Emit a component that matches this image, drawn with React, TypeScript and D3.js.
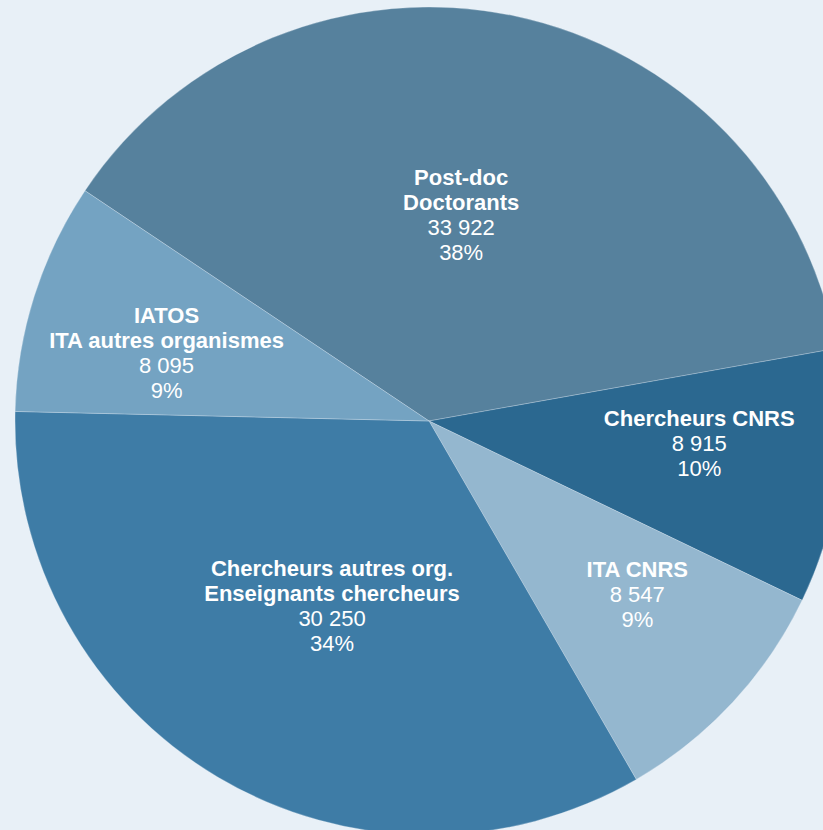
import React from "react";
import * as d3 from "d3";

const categories: string[][] = [
  ["Post-doc", "Doctorants"],
  ["Chercheurs CNRS"],
  ["ITA CNRS"],
  ["Chercheurs autres org.", "Enseignants chercheurs"],
  ["IATOS", "ITA autres organismes"],
];
const values: number[] = [33922, 8915, 8547, 30250, 8095];
const percentLabels: string[] = ["38%", "10%", "9%", "34%", "9%"];
const colors: string[] = ["#56819D", "#2B6890", "#94B7CF", "#3E7CA6", "#74A3C2"];

const W = 823;
const H = 830;
const CX = 429;
const CY = 421;
const R = 414;
const START_DEG = -56.2;
const FONT = 22;
const LINE_H = 25;

const fmt = (v: number) => d3.format(",")(v).replace(/,/g, " ");

export default function App() {
  const total = d3.sum(values);
  const pie = d3
    .pie<number>()
    .sort(null)
    .value((d) => d)
    .startAngle((START_DEG * Math.PI) / 180)
    .endAngle(((START_DEG + 360) * Math.PI) / 180);
  const arcs = pie(values);
  const arcGen = d3.arc<d3.PieArcDatum<number>>().innerRadius(0).outerRadius(R);
  const shift = (-3 * Math.PI) / 180;

  return (
    <div style={{ position: "fixed", left: 0, top: 0, width: W, height: H }}>
      <svg width={W} height={H} style={{ display: "block" }}>
        <rect width={W} height={H} fill="#E8F0F7" />
        <g transform={`translate(${CX},${CY})`}>
          {arcs.map((a, i) => (
            <path key={i} d={arcGen(a) || ""} fill={colors[i]} stroke="#E8F0F7" strokeOpacity={0.35} strokeWidth={0.8} />
          ))}
          {arcs.map((a, i) => {
            const frac = values[i] / total;
            const lr = frac > 0.25 ? R * 0.505 : R * 0.655;
            const mid = (a.startAngle + a.endAngle) / 2 + shift;
            const x = lr * Math.sin(mid);
            const y = -lr * Math.cos(mid);
            const lines = [
              ...categories[i].map((t) => ({ t, b: true })),
              { t: fmt(values[i]), b: false },
              { t: percentLabels[i], b: false },
            ];
            const y0 = y - ((lines.length - 1) * LINE_H) / 2;
            return (
              <text
                key={"t" + i}
                textAnchor="middle"
                fill="#FFFFFF"
                fontFamily="'Liberation Sans', Arial, sans-serif"
                fontSize={FONT}
              >
                {lines.map((l, j) => (
                  <tspan key={j} x={x} y={y0 + j * LINE_H} dy="0.35em" fontWeight={l.b ? "bold" : "normal"}>
                    {l.t}
                  </tspan>
                ))}
              </text>
            );
          })}
        </g>
      </svg>
    </div>
  );
}
